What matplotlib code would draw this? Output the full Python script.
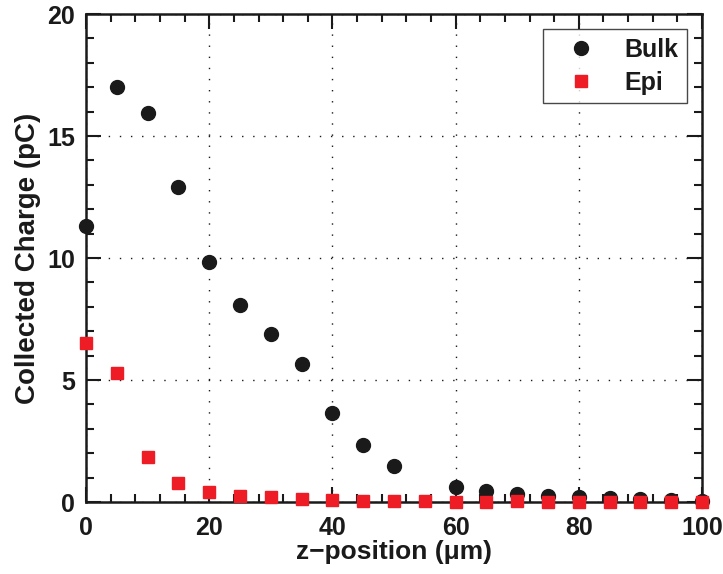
import numpy as np
import matplotlib.pyplot as plt
from matplotlib.ticker import MultipleLocator

plt.rcParams['font.family'] = ['Liberation Sans', 'DejaVu Sans']
plt.rcParams['font.weight'] = 'bold'

# collected charge vs. z-position
z_bulk = [0, 5, 10, 15, 20, 25, 30, 35, 40, 45, 50, 60, 65, 70, 75, 80, 85, 90, 95, 100]
q_bulk = [11.32, 17.02, 15.95, 12.92, 9.85, 8.07, 6.87, 5.66, 3.63, 2.32, 1.49,
          0.63, 0.45, 0.33, 0.25, 0.19, 0.16, 0.14, 0.10, 0.05]

z_epi = [0, 5, 10, 15, 20, 25, 30, 35, 40, 45, 50, 55, 60, 65, 70, 75, 80, 85, 90, 95, 100]
q_epi = [6.50, 5.30, 1.86, 0.79, 0.42, 0.25, 0.19, 0.12, 0.08, 0.05, 0.05, 0.05,
         0.02, 0.00, 0.03, 0.02, 0.02, 0.02, 0.02, 0.02, 0.02]

fig = plt.figure(figsize=(7.23, 5.74), dpi=100)
ax = fig.add_axes([0.119, 0.1254, 0.852, 0.8502])

ax.plot(z_bulk, q_bulk, 'o', color='#1a1a1a', markersize=10, label='Bulk',
        clip_on=False, zorder=3)
ax.plot(z_epi, q_epi, 's', color='#ee1c24', markersize=8.5, label='Epi',
        clip_on=False, zorder=4)

ax.set_xlim(0, 100)
ax.set_ylim(0, 20)
ax.xaxis.set_major_locator(MultipleLocator(20))
ax.xaxis.set_minor_locator(MultipleLocator(4))
ax.yaxis.set_major_locator(MultipleLocator(5))
ax.yaxis.set_minor_locator(MultipleLocator(1))

ax.tick_params(which='both', direction='in', top=True, right=True,
               labelsize=18, width=1.5, color='#1a1a1a', labelcolor='#1a1a1a')
ax.tick_params(axis='x', pad=10)
ax.tick_params(axis='y', pad=8)
ax.tick_params(which='major', length=11)
ax.tick_params(which='minor', length=6)
for s in ax.spines.values():
    s.set_linewidth(1.8)
    s.set_color('#1a1a1a')

ax.grid(True, which='major', color='#1a1a1a', linestyle=(0, (1, 7)), linewidth=1)

ax.set_xlabel('z\u2212position (μm)', fontsize=19, fontweight='bold',
              labelpad=0, color='#1a1a1a')
ax.set_ylabel('Collected Charge (pC)', fontsize=20, fontweight='bold',
              labelpad=4, color='#1a1a1a')

leg = ax.legend(loc='upper right', fontsize=18, frameon=True, fancybox=False,
                borderpad=0.35, handlelength=2.3, handletextpad=0.6,
                labelspacing=0.35, borderaxespad=0.6)
leg.get_frame().set_edgecolor('#1a1a1a')
leg.get_frame().set_linewidth(1.0)
for t in leg.get_texts():
    t.set_fontweight('bold')
    t.set_color('#1a1a1a')

plt.savefig('out.png', dpi=100)
